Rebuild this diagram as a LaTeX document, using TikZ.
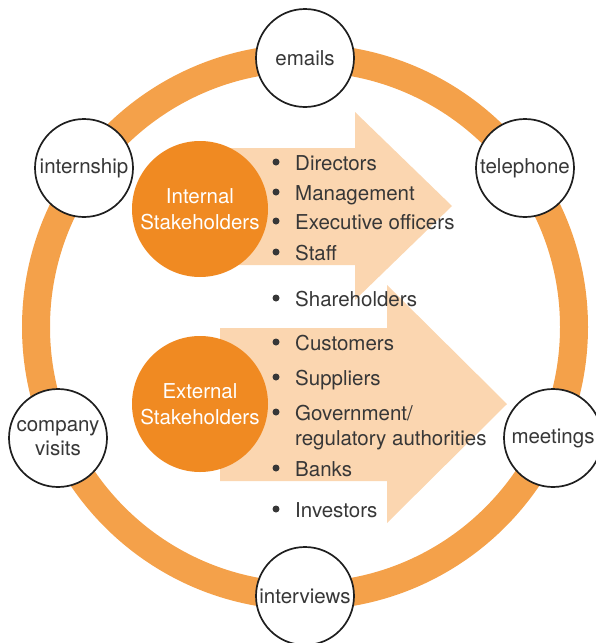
\documentclass[tikz,border=0pt]{standalone}
\usepackage{fontspec}
\setmainfont{TeX Gyre Heros}
\definecolor{ringorange}{RGB}{244,161,74}
\definecolor{hubfill}{RGB}{240,138,34}
\definecolor{peach}{RGB}{251,214,176}
\definecolor{textgray}{RGB}{55,55,55}
\begin{document}
\begin{tikzpicture}[x=1pt,y=-1pt,
  channel/.style={circle, draw=black!88, line width=1.7pt, fill=white,
    minimum size=98pt, inner sep=0pt, align=center, text=textgray,
    font=\fontsize{20.5}{24}\selectfont},
  group/.style={circle, fill=hubfill, minimum size=136pt, inner sep=0pt,
    align=center, text=white, font=\fontsize{20.5}{26}\selectfont},
  flow/.style={fill=peach},
  entry/.style={anchor=base west, inner sep=0pt, text=textgray,
    font=\fontsize{20.5}{24}\selectfont},
  dot/.style={circle, fill=textgray, minimum size=7pt, inner sep=0pt}]
\useasboundingbox (0,0) rectangle (595,643);

% outer ring of communication channels
\coordinate (hub) at (305,327);
\draw[ringorange, line width=28pt] (hub) circle[radius=269];

% two flow arrows
\fill[flow] (225,148) -- (355,148) -- (355,112) -- (452,206) -- (355,300)
  -- (355,265) -- (225,265) -- cycle;
\fill[flow] (220,328) -- (387,328) -- (387,285) -- (507,404) -- (387,523)
  -- (387,481) -- (220,481) -- cycle;

% stakeholder groups
\node[group] (internal) at (200,209) {Internal\\Stakeholders};
\node[group] (external) at (200,404) {External\\Stakeholders};

% channels on the ring
\node[channel] (emails)     at (305,58)  {emails};
\node[channel] (telephone)  at (525,168) {telephone};
\node[channel] (meetings)   at (553,438) {meetings};
\node[channel] (interviews) at (305,596) {interviews};
\node[channel] (visits)     at (58,438)  {company\\visits};
\node[channel] (internship) at (84,168)  {internship};

% bullet lists
\foreach \yb/\txt [count=\i] in {170/Directors, 200/Management,
    229/Executive officers, 260/Staff, 306/Shareholders, 350/Customers,
    385/Suppliers, 420/{Government/}, 476/Banks, 517/Investors} {
  \node[dot] (dot\i) at (276,\yb-8) {};
  \node[entry] (item\i) at (295,\yb) {\txt};
}
\node[entry] (itemcont) at (295,445) {regulatory authorities};
\end{tikzpicture}
\end{document}
